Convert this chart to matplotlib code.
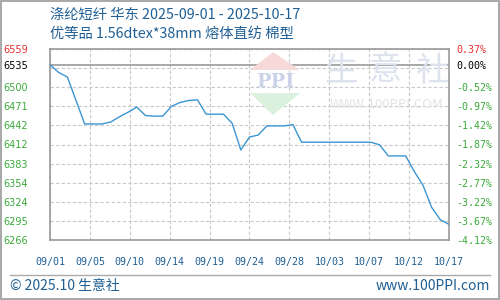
import numpy as np
import pandas as pd
import matplotlib
matplotlib.use('Agg')
import matplotlib.pyplot as plt
from matplotlib.patches import Polygon, Rectangle
from matplotlib.lines import Line2D

plt.rcParams['font.family'] = ['Noto Sans CJK SC', 'DejaVu Sans']

# data
dates = pd.date_range('2025-09-01', '2025-10-17', freq='D')
prices = [6535, 6523, 6516, 6480, 6444, 6444, 6444, 6447, 6455, 6462,
          6470, 6457, 6456, 6456, 6471, 6477, 6480, 6481, 6459, 6459,
          6459, 6445, 6404, 6424, 6427, 6441, 6441, 6441, 6443, 6416,
          6416, 6416, 6416, 6416, 6416, 6416, 6416, 6416, 6412, 6395,
          6395, 6395, 6371, 6350, 6316, 6297, 6290]
base = 6535
y_min, y_max = 6266, 6559
left_labels = ['6266', '6295', '6324', '6354', '6383', '6412', '6442', '6471', '6500', '6535', '6559']
right_labels = ['-4.12%', '-3.67%', '-3.22%', '-2.77%', '-2.32%', '-1.87%', '-1.42%', '-0.97%', '-0.52%', '0.00%', '0.37%']
x_labels = ['09/01', '09/05', '09/10', '09/14', '09/19', '09/24', '09/28', '10/03', '10/07', '10/12', '10/17']
title1 = '涤纶短纤 华东 2025-09-01 - 2025-10-17'
title2 = '优等品 1.56dtex*38mm 熔体直纺 棉型'

blue_txt = '#1f5f94'
green = '#3aa93a'
red = '#e83030'

W, H = 500, 300
fig = plt.figure(figsize=(5, 3), dpi=100)
fig.patch.set_facecolor('white')

def fx(x):
    return x / W

def fy(y):
    return 1 - y / H

# watermark (behind the axes)
fig.patches.append(Polygon([[fx(273), fy(52)], [fx(250), fy(70)], [fx(300), fy(70)]],
                           closed=True, transform=fig.transFigure, fc='#f7d9d9', ec='none', zorder=0))
fig.patches.append(Polygon([[fx(250), fy(93)], [fx(300), fy(93)], [fx(273), fy(115)]],
                           closed=True, transform=fig.transFigure, fc='#d9f1dd', ec='none', zorder=0))
fig.text(fx(275), fy(81.5), 'PPI', color='#cbd3ea', fontsize=14, family='DejaVu Serif',
         fontweight='bold', ha='center', va='center', zorder=0)
for ch, cx in zip('生意社', [341, 386, 432]):
    fig.text(fx(cx), fy(71), ch, color='#dde2ee', fontsize=24,
             ha='center', va='center', zorder=0)
fig.text(fx(387), fy(105), 'WWW.100PPI.COM', color='#e3e3e3', fontsize=9.5,
         ha='center', va='center', zorder=0)

ax = fig.add_axes([fx(50), 1 - 240 / H, 399 / W, 191 / H])
ax.set_facecolor('none')

days = (dates - dates[0]).days.values
ax.plot(days, prices, color='#3a96d2', lw=1.0, zorder=3)

ax.set_xlim(0, days[-1])
ax.set_ylim(y_min, y_max)

grid_vals = np.linspace(y_min, y_max, 11)
ytick_vals = list(grid_vals[:9]) + [base, y_max]
ax.set_yticks(ytick_vals)
ax.set_yticklabels(left_labels, family='DejaVu Sans', fontsize=7)
ax.set_yticks([grid_vals[9]], minor=True)
ax.set_xticks(np.linspace(0, days[-1], 11))
ax.set_xticklabels(x_labels, family='DejaVu Sans Mono', fontsize=7.2, color=blue_txt)

ax.tick_params(axis='both', which='both', length=0)
ax.tick_params(axis='x', pad=12)
ax.tick_params(axis='y', pad=16)
for lab, c in zip(ax.get_yticklabels(), [green] * 9 + ['black', red]):
    lab.set_color(c)

ax.grid(True, which='both', color='#c8c8c8', ls=(0, (3, 2)), lw=0.8)
ax.set_axisbelow(True)
gl = ax.get_ygridlines()
gl[9].set_linestyle('-')
gl[9].set_color('#999999')
gl[9].set_linewidth(1.2)

for s in ax.spines.values():
    s.set_color('#999999')
    s.set_linewidth(1.2)

ax2 = ax.twinx()
ax2.set_ylim(y_min, y_max)
ax2.set_yticks(ytick_vals)
ax2.set_yticklabels(right_labels, family='DejaVu Sans Mono', fontsize=7.2)
ax2.tick_params(axis='y', length=0, pad=5)
for lab, c in zip(ax2.get_yticklabels(), [green] * 9 + ['black', red]):
    lab.set_color(c)
for s in ax2.spines.values():
    s.set_visible(False)

# titles
fig.text(fx(50), fy(15), title1, color=blue_txt, fontsize=10.3, ha='left', va='center')
fig.text(fx(50), fy(34), title2, color=blue_txt, fontsize=10.3, ha='left', va='center')

# footer
fig.lines.append(Line2D([fx(10), fx(490)], [fy(275), fy(275)], transform=fig.transFigure,
                        color='#aaaaaa', lw=1))
fig.text(fx(10), fy(286), '© 2025.10 生意社', color=blue_txt, fontsize=10, ha='left', va='center')
fig.text(fx(490), fy(286), 'www.100PPI.com', color=blue_txt, fontsize=10, ha='right', va='center')

# outer frame
fig.patches.append(Rectangle((0.001, 0.002), 0.997, 0.995, transform=fig.transFigure,
                             fill=False, ec='#999999', lw=1.2))

fig.savefig('out.png', dpi=100)
